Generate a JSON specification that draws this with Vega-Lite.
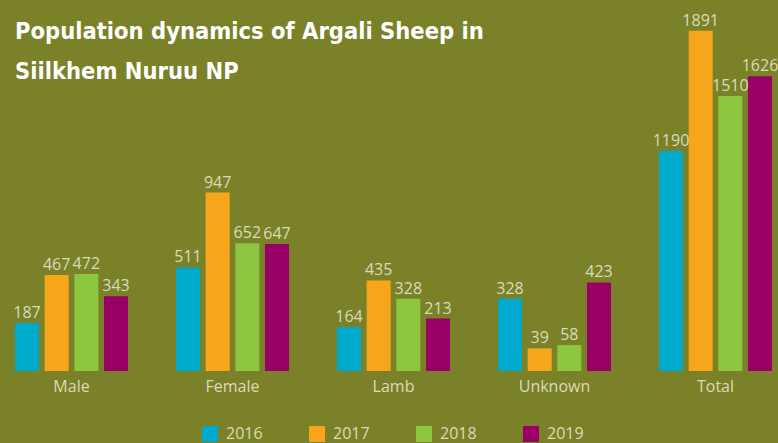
{
  "$schema": "https://vega.github.io/schema/vega-lite/v6.json",
  "autosize": {"type": "none"},
  "padding": {"left": 0, "top": 0, "right": 0, "bottom": 72},
  "width": 778,
  "height": 371,
  "background": "#7A8128",
  "title": {
    "text": ["Population dynamics of Argali Sheep in", "Siilkhem Nuruu NP"],
    "anchor": "start",
    "orient": "top",
    "offset": 0,
    "dx": 15,
    "dy": 102,
    "baseline": "alphabetic",
    "font": "DejaVu Sans Condensed",
    "fontWeight": "bold",
    "fontSize": 23.5,
    "lineHeight": 40,
    "color": "#FFFFFF"
  },
  "data": {
    "values": [
      {"group": "Male", "year": "2016", "value": 187},
      {"group": "Male", "year": "2017", "value": 467},
      {"group": "Male", "year": "2018", "value": 472},
      {"group": "Male", "year": "2019", "value": 343},
      {"group": "Female", "year": "2016", "value": 511},
      {"group": "Female", "year": "2017", "value": 947},
      {"group": "Female", "year": "2018", "value": 652},
      {"group": "Female", "year": "2019", "value": 647},
      {"group": "Lamb", "year": "2016", "value": 164},
      {"group": "Lamb", "year": "2017", "value": 435},
      {"group": "Lamb", "year": "2018", "value": 328},
      {"group": "Lamb", "year": "2019", "value": 213},
      {"group": "Unknown", "year": "2016", "value": 328},
      {"group": "Unknown", "year": "2017", "value": 39},
      {"group": "Unknown", "year": "2018", "value": 58},
      {"group": "Unknown", "year": "2019", "value": 423},
      {"group": "Total", "year": "2016", "value": 1190},
      {"group": "Total", "year": "2017", "value": 1891},
      {"group": "Total", "year": "2018", "value": 1510},
      {"group": "Total", "year": "2019", "value": 1626}
    ]
  },
  "encoding": {
    "x": {
      "field": "group",
      "type": "nominal",
      "sort": ["Male", "Female", "Lamb", "Unknown", "Total"],
      "scale": {"range": [15, 772], "paddingInner": 0.298, "paddingOuter": 0},
      "axis": {
        "title": null,
        "domain": false,
        "ticks": false,
        "labelAngle": 0,
        "labelFont": "Open Sans",
        "labelFontSize": 16,
        "labelColor": "#D9DCB9",
        "labelPadding": 7
      }
    },
    "xOffset": {
      "field": "year",
      "type": "nominal",
      "scale": {"paddingInner": 0.19, "paddingOuter": 0}
    },
    "y": {
      "field": "value",
      "type": "quantitative",
      "scale": {"domain": [-93, 2070], "nice": false, "zero": false},
      "axis": null
    }
  },
  "layer": [
    {
      "mark": {"type": "bar"},
      "encoding": {
        "y2": {"datum": -93},
        "color": {
          "field": "year",
          "type": "nominal",
          "scale": {
            "domain": ["2016", "2017", "2018", "2019"],
            "range": ["#00AACC", "#F7A61C", "#8DC63F", "#990066"]
          },
          "legend": {
            "title": null,
            "orient": "none",
            "legendX": 202,
            "legendY": 426,
            "direction": "horizontal",
            "columns": 4,
            "padding": 0,
            "symbolType": "square",
            "symbolSize": 256,
            "symbolStrokeWidth": 0,
            "symbolOpacity": 1,
            "labelFont": "Open Sans",
            "labelFontSize": 16,
            "labelColor": "#D9DCB9",
            "labelOffset": 8,
            "columnPadding": 46
          }
        }
      }
    },
    {
      "mark": {
        "type": "text",
        "baseline": "alphabetic",
        "dy": -5,
        "font": "Open Sans",
        "fontSize": 16,
        "color": "#D9DCB9"
      },
      "encoding": {
        "text": {"field": "value", "type": "quantitative"}
      }
    }
  ],
  "config": {
    "view": {"stroke": null}
  }
}
